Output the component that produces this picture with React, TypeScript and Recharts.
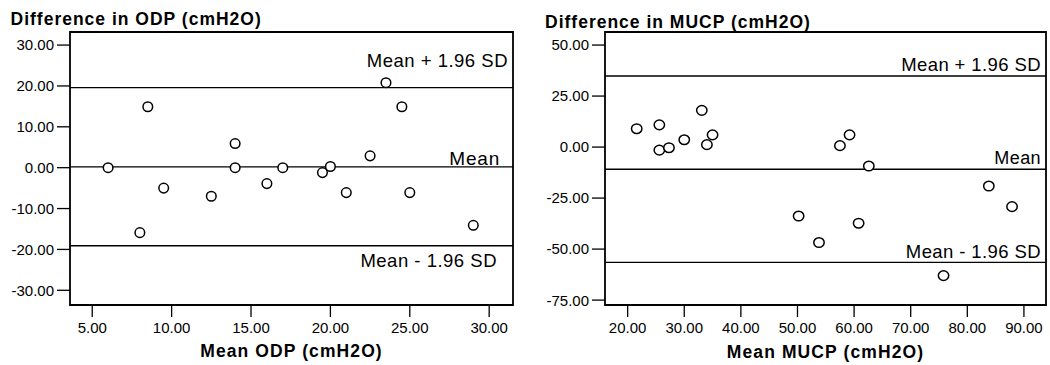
import React from 'react';
import { ScatterChart, Scatter, XAxis, YAxis, ReferenceLine, ReferenceArea } from 'recharts';

// ODP panel
const odpMean = [6.0, 8.5, 14.0, 14.0, 17.0, 19.5, 20.0, 22.5, 23.5, 24.5, 16.0, 9.5, 12.5, 21.0, 25.0, 8.0, 29.0];
const odpDiff = [0, 14.9, 5.9, 0, 0, -1.2, 0.3, 2.9, 20.8, 14.9, -3.9, -5.0, -7.0, -6.1, -6.1, -15.9, -14.1];
const odpXTicks = [5, 10, 15, 20, 25, 30];
const odpYTicks = [-30, -20, -10, 0, 10, 20, 30];
const odpLines = [19.6, 0.2, -19.1]; // mean + 1.96 SD, mean, mean - 1.96 SD

// MUCP panel
const mucpMean = [21.6, 25.6, 25.6, 27.3, 30.0, 33.1, 34.0, 35.0, 57.5, 59.2, 62.6, 83.8, 87.9, 50.2, 60.8, 53.8, 75.8];
const mucpDiff = [9.0, 10.9, -1.5, -0.3, 3.6, 18.0, 1.2, 6.0, 0.7, 6.0, -9.3, -19.1, -29.2, -33.8, -37.3, -46.8, -63.0];
const mucpXTicks = [20, 30, 40, 50, 60, 70, 80, 90];
const mucpYTicks = [-75, -50, -25, 0, 25, 50];
const mucpLines = [34.8, -10.9, -56.5];

const lineNames = ['Mean + 1.96 SD', 'Mean', 'Mean - 1.96 SD'];

const FONT = '"Liberation Sans", Arial, Helvetica, sans-serif';

const lineLabel = (text: string, inset: number, dy: number, size: number, spacing: number) => (props: any) => {
  const vb = props.viewBox || { x: 0, y: 0, width: 0 };
  return (
    <text x={vb.x + vb.width - inset} y={vb.y + dy} textAnchor="end" fontFamily={FONT}
      fontSize={size} letterSpacing={spacing} fill="#000">{text}</text>
  );
};

const ring = (rx: number, ry: number) => (props: any) => (
  <ellipse cx={props.cx} cy={props.cy} rx={rx} ry={ry} fill="#fff" stroke="#000" strokeWidth={1.5} />
);

const XTick = (props: any) => (
  <text x={props.x} y={props.y} dy="0.71em" textAnchor="middle" fontFamily={FONT}
    fontSize={15} fill="#000">{Number(props.payload.value).toFixed(2)}</text>
);

const YTick = (props: any) => (
  <text x={props.x} y={props.y} dy="0.36em" textAnchor="end" fontFamily={FONT}
    fontSize={15} fill="#000">{Number(props.payload.value).toFixed(2)}</text>
);

interface LineStyle { inset: number; dy: number; size: number; spacing: number }

interface PanelProps {
  xs: number[];
  ys: number[];
  xTicks: number[];
  yTicks: number[];
  xDomain: [number, number];
  yDomain: [number, number];
  lines: number[];
  lineStyles: LineStyle[];
  title: string;
  titleX: number;
  titleY: number;
  xLabel: string;
  xLabelY: number;
  yAxisWidth: number;
  rightMargin: number;
  rx: number;
  ry: number;
}

const Panel: React.FC<PanelProps> = (p) => {
  const data = p.xs.map((x, i) => ({ x, y: p.ys[i] }));
  const tickLine = { stroke: '#000', strokeWidth: 1.3 };
  return (
    <ScatterChart width={525} height={365} margin={{ top: 32, right: p.rightMargin, left: 0, bottom: 0 }}>
      <XAxis
        type="number"
        dataKey="x"
        domain={p.xDomain}
        ticks={p.xTicks}
        allowDataOverflow
        height={60}
        tickSize={12}
        tickMargin={5}
        axisLine={false}
        tickLine={tickLine}
        tick={<XTick />}
        label={(props: any) => {
          const vb = props.viewBox || { x: 0, y: 0, width: 0 };
          return (
            <text x={vb.x + vb.width / 2} y={vb.y + p.xLabelY} textAnchor="middle" fontFamily={FONT}
              fontSize={17.5} fontWeight="bold" letterSpacing={1.1} fill="#000">{p.xLabel}</text>
          );
        }}
      />
      <YAxis
        type="number"
        dataKey="y"
        domain={p.yDomain}
        ticks={p.yTicks}
        allowDataOverflow
        width={p.yAxisWidth}
        tickSize={13}
        tickMargin={3}
        axisLine={false}
        tickLine={tickLine}
        tick={<YTick />}
        label={() => (
          <text x={p.titleX} y={p.titleY} fontFamily={FONT} fontSize={17.5} fontWeight="bold"
            letterSpacing={1} fill="#000">{p.title}</text>
        )}
      />
      <ReferenceArea x1={p.xDomain[0]} x2={p.xDomain[1]} y1={p.yDomain[0]} y2={p.yDomain[1]}
        fill="none" fillOpacity={0} stroke="#000" strokeWidth={1.8} ifOverflow="visible" />
      {p.lines.map((v, i) => {
        const s = p.lineStyles[i];
        return (
          <ReferenceLine key={i} y={v} stroke="#000" strokeWidth={1.4}
            label={lineLabel(lineNames[i], s.inset, s.dy, s.size, s.spacing)} />
        );
      })}
      <Scatter data={data} shape={ring(p.rx, p.ry)} isAnimationActive={false} />
    </ScatterChart>
  );
};

export default function App() {
  return (
    <div style={{ position: 'absolute', left: 0, top: 0, width: 1050, height: 365, background: '#fff' }}>
      <div style={{ position: 'absolute', left: 0, top: 0 }}>
        <Panel
          xs={odpMean}
          ys={odpDiff}
          xTicks={odpXTicks}
          yTicks={odpYTicks}
          xDomain={[3.6, 31.5]}
          yDomain={[-33.6, 33.2]}
          lines={odpLines}
          lineStyles={[
            { inset: 5, dy: -20.4, size: 18.5, spacing: 0.5 },
            { inset: 13, dy: -2, size: 19, spacing: 0.8 },
            { inset: 16, dy: 21, size: 18.5, spacing: 0.5 },
          ]}
          title="Difference in ODP (cmH2O)"
          titleX={10.5}
          titleY={25}
          xLabel="Mean ODP (cmH2O)"
          xLabelY={52}
          yAxisWidth={70}
          rightMargin={12}
          rx={4.8}
          ry={4.8}
        />
      </div>
      <div style={{ position: 'absolute', left: 525, top: 0 }}>
        <Panel
          xs={mucpMean}
          ys={mucpDiff}
          xTicks={mucpXTicks}
          yTicks={mucpYTicks}
          xDomain={[16.0, 93.9]}
          yDomain={[-77.4, 56.4]}
          lines={mucpLines}
          lineStyles={[
            { inset: 5, dy: -4.6, size: 18.5, spacing: 0.4 },
            { inset: 5, dy: -5.7, size: 18, spacing: 0.4 },
            { inset: 5, dy: -4, size: 18.5, spacing: 0.4 },
          ]}
          title="Difference in MUCP (cmH2O)"
          titleX={20}
          titleY={28}
          xLabel="Mean MUCP (cmH2O)"
          xLabelY={53}
          yAxisWidth={80}
          rightMargin={4}
          rx={5.2}
          ry={4.8}
        />
      </div>
    </div>
  );
}
